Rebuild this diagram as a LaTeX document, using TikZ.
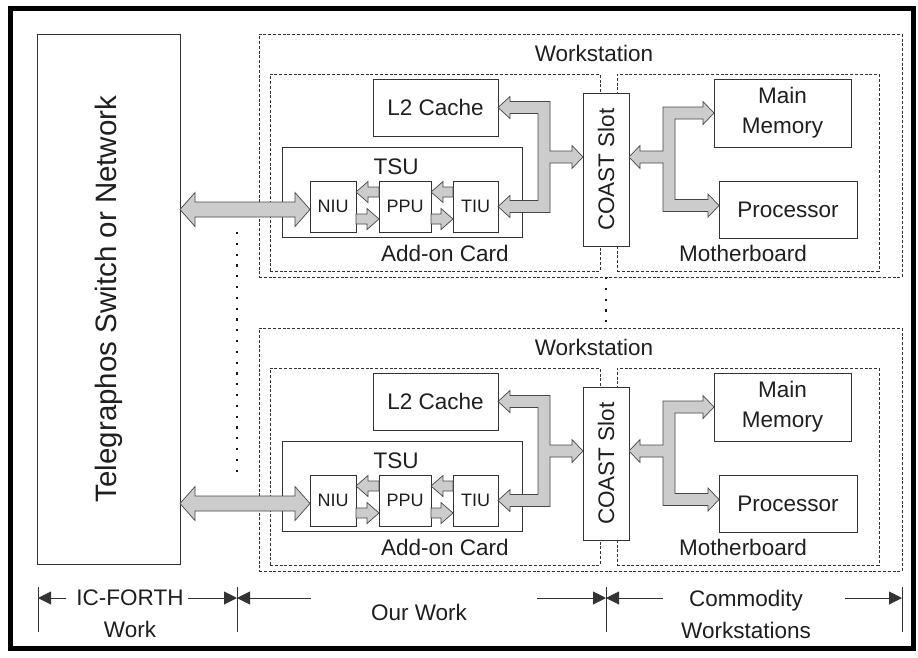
\documentclass[tikz,border=0pt]{standalone}
\usepackage{fontspec}
\setmainfont{Liberation Sans}
\usetikzlibrary{calc,arrows.meta}

\tikzset{
  txt/.style={font=\fontsize{22.5}{27}\selectfont, text=black!88, inner sep=0pt},
  smalltxt/.style={font=\fontsize{18}{21}\selectfont, text=black!88, inner sep=0pt},
  box/.style={draw=black!80, line width=0.9pt, inner sep=0pt, outer sep=0pt, anchor=north west},
  dotbox/.style={draw=black!80, line width=0.9pt, dash pattern=on 3pt off 1.8pt, inner sep=0pt, outer sep=0pt, anchor=north west},
  fat/.style={fill=black!20, draw=black!72, line width=0.7pt, line join=miter},
  dots/.style={draw=black!90, line width=1.7pt, dash pattern=on 2.2pt off 8.6pt},
  dim/.style={draw=black!80, line width=0.9pt},
  dimarrow/.style={dim, -{Triangle[length=13pt,width=13pt]}},
}

% fat double arrow: #1 left tip, #2 right tip, #3 shaft half height, #4 head half height, #5 head length
\newcommand\fatdbl[5]{%
  \path[fat] (#1) -- ($(#1)+(#5,-#4)$) -- ($(#1)+(#5,-#3)$) -- ($(#2)+(-#5,-#3)$)
    -- ($(#2)+(-#5,-#4)$) -- (#2) -- ($(#2)+(-#5,#4)$) -- ($(#2)+(-#5,#3)$)
    -- ($(#1)+(#5,#3)$) -- ($(#1)+(#5,#4)$) -- cycle;}
% fat arrow pointing right: #1 tail, #2 tip
\newcommand\fatright[5]{%
  \path[fat] ($(#1)+(0,-#3)$) -- ($(#2)+(-#5,-#3)$) -- ($(#2)+(-#5,-#4)$) -- (#2)
    -- ($(#2)+(-#5,#4)$) -- ($(#2)+(-#5,#3)$) -- ($(#1)+(0,#3)$) -- cycle;}
% fat arrow pointing left: #1 tail, #2 tip
\newcommand\fatleft[5]{%
  \path[fat] ($(#1)+(0,-#3)$) -- ($(#2)+(#5,-#3)$) -- ($(#2)+(#5,-#4)$) -- (#2)
    -- ($(#2)+(#5,#4)$) -- ($(#2)+(#5,#3)$) -- ($(#1)+(0,#3)$) -- cycle;}

% one workstation with its add-on card: #1 name prefix, #2 vertical offset
\newcommand\wsunit[2]{%
  \node[dotbox, minimum width=643pt, minimum height=243pt] (#1ws)   at (259,34+#2) {};
  \node[dotbox, minimum width=330pt, minimum height=197pt] (#1card) at (270,74+#2) {};
  \node[dotbox, minimum width=262pt, minimum height=197pt] (#1mobo) at (617,74+#2) {};
  \node[box, fill=white, minimum width=46pt, minimum height=153pt] (#1coast) at (583,93+#2) {};
  \node[box, minimum width=125pt, minimum height=57pt] (#1l2)   at (373,79+#2) {};
  \node[box, minimum width=240pt, minimum height=90pt] (#1tsu)  at (282,147+#2) {};
  \node[box, minimum width=46pt,  minimum height=51pt] (#1niu)  at (310,181+#2) {};
  \node[box, minimum width=52pt,  minimum height=51pt] (#1ppu)  at (379,181+#2) {};
  \node[box, minimum width=45pt,  minimum height=51pt] (#1tiu)  at (453,181+#2) {};
  \node[box, minimum width=137pt, minimum height=68pt] (#1mem)  at (714,79+#2) {};
  \node[box, minimum width=138pt, minimum height=57pt] (#1proc) at (719,181+#2) {};
  % labels
  \node[txt] (#1wst)   at (594,53+#2)  {Workstation};
  \node[txt] (#1cardt) at (445,253+#2) {Add-on Card};
  \node[txt] (#1mobot) at (743,253+#2) {Motherboard};
  \node[txt] (#1tsut)  at (396,167+#2) {TSU};
  \node[txt] (#1l2t)   at (#1l2.center) {L2 Cache};
  \node[smalltxt] (#1niut) at (#1niu.center) {NIU};
  \node[smalltxt] (#1pput) at (#1ppu.center) {PPU};
  \node[smalltxt] (#1tiut) at (#1tiu.center) {TIU};
  \node[txt, rotate=90] (#1coastt) at (#1coast.center) {COAST Slot};
  \node[txt, align=center, font=\fontsize{22.5}{30}\selectfont] (#1memt) at (#1mem.center) {Main\\Memory};
  \node[txt] (#1proct) at (#1proc.center) {Processor};
  % link to the switch
  \coordinate (#1ta) at ($(tele.east |- #1niu.west)+(0,3)$);
  \coordinate (#1tb) at ($(#1niu.west)+(0,3)$);
  \fatdbl{#1ta}{#1tb}{7.5}{17}{15}
  % NIU <-> PPU <-> TIU
  \coordinate (#1pa) at ($(#1ppu.west)+(0,-14.5)$);
  \coordinate (#1na) at ($(#1niu.east)+(0,-14.5)$);
  \fatleft{#1pa}{#1na}{5}{10.5}{12}
  \coordinate (#1nb) at ($(#1niu.east)+(0,12.5)$);
  \coordinate (#1pb) at ($(#1ppu.west)+(0,12.5)$);
  \fatright{#1nb}{#1pb}{5}{10.5}{12}
  \coordinate (#1tc) at ($(#1tiu.west)+(0,-14.5)$);
  \coordinate (#1pc) at ($(#1ppu.east)+(0,-14.5)$);
  \fatleft{#1tc}{#1pc}{5}{10.5}{12}
  \coordinate (#1pd) at ($(#1ppu.east)+(0,12.5)$);
  \coordinate (#1td) at ($(#1tiu.west)+(0,12.5)$);
  \fatright{#1pd}{#1td}{5}{10.5}{12}
  % card bus: L2 cache, TIU and COAST slot
  \coordinate (#1A) at (#1l2.east);
  \coordinate (#1B) at (#1tiu.east);
  \coordinate (#1Cm) at ($(#1A)!0.5!(#1B)$);
  \coordinate (#1C) at (#1coast.west |- #1Cm);
  \path[fat] (#1A) -- ($(#1A)+(12,-11)$) -- ($(#1A)+(12,-6)$) -- ($(#1A)+(52,-6)$)
    -- ($(#1C)+(-33,-6)$) -- ($(#1C)+(-11,-6)$) -- ($(#1C)+(-11,-11.5)$) -- (#1C)
    -- ($(#1C)+(-11,11.5)$) -- ($(#1C)+(-11,6)$) -- ($(#1C)+(-33,6)$)
    -- ($(#1B)+(52,6)$) -- ($(#1B)+(12,6)$) -- ($(#1B)+(12,11)$) -- (#1B)
    -- ($(#1B)+(12,-11)$) -- ($(#1B)+(12,-6)$) -- ($(#1B)+(40,-6)$)
    -- ($(#1A)+(40,6)$) -- ($(#1A)+(12,6)$) -- ($(#1A)+(12,11)$) -- cycle;
  % motherboard bus: COAST slot, main memory and processor
  \coordinate (#1D) at (#1coast.east |- #1Cm);
  \coordinate (#1M) at (#1mem.west);
  \coordinate (#1P) at ($(#1proc.west)+(0,-4)$);
  \path[fat] (#1D) -- ($(#1D)+(11,-11.5)$) -- ($(#1D)+(11,-6)$) -- ($(#1D)+(34,-6)$)
    -- ($(#1M)+(-51,-6)$) -- ($(#1M)+(-11,-6)$) -- ($(#1M)+(-11,-11.5)$) -- (#1M)
    -- ($(#1M)+(-11,11.5)$) -- ($(#1M)+(-11,6)$) -- ($(#1M)+(-39,6)$)
    -- ($(#1P)+(-44,-6)$) -- ($(#1P)+(-11,-6)$) -- ($(#1P)+(-11,-11.5)$) -- (#1P)
    -- ($(#1P)+(-11,11.5)$) -- ($(#1P)+(-11,6)$) -- ($(#1P)+(-56,6)$)
    -- ($(#1D)+(34,6)$) -- ($(#1D)+(11,6)$) -- ($(#1D)+(11,11.5)$) -- cycle;
}

\begin{document}
\begin{tikzpicture}[x=1pt,y=-1pt]
  \useasboundingbox (0,0) rectangle (918,657);
  \fill[white] (0,0) rectangle (918,657);
  % outer frame
  \draw[line width=5pt] (10.5,8.5) rectangle (913,648.5);

  % switch
  \node[box, minimum width=143pt, minimum height=530pt] (tele) at (37,34) {};
  \node[txt, rotate=90, font=\fontsize{29.5}{34}\selectfont] (telet) at (tele.center) {Telegraphos Switch or Network};

  \wsunit{u}{0}
  \wsunit{v}{294}

  % elision dots
  \draw[dots] (uws.south -| ucoast.center) -- (vws.north -| vcoast.center);
  \coordinate (e1) at (237,232);
  \coordinate (e2) at (237,474);
  \draw[dots] (e1) -- (e2);

  % extent markers
  \foreach \x [count=\i] in {38,237,606,902} {
    \coordinate (tk\i a) at (\x,587);
    \coordinate (tk\i b) at (\x,632);
    \coordinate (k\i) at (\x,598);
    \draw[dim] (tk\i a) -- (tk\i b);
  }
  \coordinate (s1) at (66,598);
  \coordinate (s2) at (188,598);
  \coordinate (s3) at (311,598);
  \coordinate (s4) at (537,598);
  \coordinate (s5) at (663,598);
  \coordinate (s6) at (845,598);
  \draw[dimarrow] (s1) -- (k1);
  \draw[dimarrow] (s2) -- (k2);
  \draw[dimarrow] (s3) -- (k2);
  \draw[dimarrow] (s4) -- (k3);
  \draw[dimarrow] (s5) -- (k3);
  \draw[dimarrow] (s6) -- (k4);
  \node[txt, align=center, font=\fontsize{22.5}{32}\selectfont] (icf) at (130,614) {IC-FORTH\\Work};
  \node[txt] (ours) at (419,612) {Our Work};
  \node[txt, align=center, font=\fontsize{22.5}{32}\selectfont] (comm) at (746,614) {Commodity\\Workstations};
\end{tikzpicture}
\end{document}
